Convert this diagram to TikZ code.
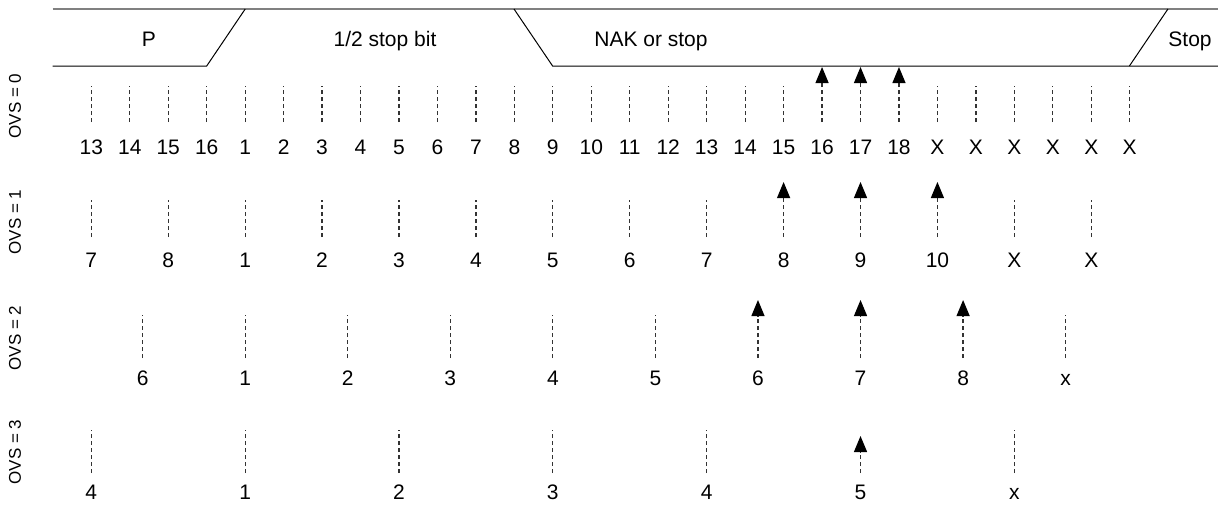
\documentclass[tikz,border=0pt]{standalone}
\usepackage{fontspec}
\setmainfont{Liberation Sans}
\usetikzlibrary{arrows.meta}

\tikzset{
	sig/.style={line width=0.5pt},
	bus/.style={line width=1pt,gray},
	tick/.style={line width=0.6pt,black!80,dash pattern=on 2pt off 1.5pt},
	hit/.style={tick,-{Triangle[length=8pt,width=6.5pt,color=black]}},
	num/.style={font=\fontsize{10.5}{12}\selectfont,inner sep=0pt,text height=7.6pt,text depth=0pt},
	ovs/.style={font=\fontsize{8.5}{10}\selectfont,inner sep=0pt,rotate=90},
}

\begin{document}
\begin{tikzpicture}[x=0.5pt,y=-0.5pt]
	\useasboundingbox (0,0) rectangle (1218,504);
	% line state
	\coordinate (pa) at (52.7,66);
	\coordinate (pb) at (206.7,66);
	\coordinate (pc) at (245.2,9);
	\coordinate (ha) at (514,9);
	\coordinate (hb) at (552.6,66);
	\coordinate (sa) at (1129.4,66);
	\coordinate (sb) at (1167.9,9);
	\draw[bus] (52.7,9) -- (1218,9);
	\draw[sig] (pa) -- (pb) -- (pc);
	\draw[sig] (ha) -- (hb) -- (1218,66);
	\draw[sig] (sa) -- (sb);
	\node[num] (p) at (149,39) {P};
	\node[num] (half) at (385,39) {1/2 stop bit};
	\node[num] (nak) at (651,39) {NAK or stop};
	\node[num] (stop) at (1190,39) {Stop};

	% OVS = 0
	\node[ovs] (ovs0) at (15,106) {OVS = 0};
	\foreach \lbl [count=\i from 0] in {13,14,15,16,1,2,3,4,5,6,7,8,9,10,11,12,13,14,15,16,17,18,X,X,X,X,X,X} {
		\node[num] (n0-\i) at ({91.3+38.46*\i},146.7) {\lbl};
		\coordinate (t0-\i) at ({91.3+38.46*\i},86);
		\coordinate (a0-\i) at ({91.3+38.46*\i},67);
		\coordinate (b0-\i) at ({91.3+38.46*\i},122);
	}
	\foreach \i in {0,...,18,22,23,24,25,26,27}
		\draw[tick] (b0-\i) -- (t0-\i);
	\foreach \i in {19,20,21}
		\draw[hit] (b0-\i) -- (a0-\i);

	% OVS = 1
	\node[ovs] (ovs1) at (15,222) {OVS = 1};
	\foreach \lbl [count=\i from 0] in {7,8,1,2,3,4,5,6,7,8,9,10,X,X} {
		\node[num] (n1-\i) at ({91.3+76.92*\i},260) {\lbl};
		\coordinate (t1-\i) at ({91.3+76.92*\i},200);
		\coordinate (a1-\i) at ({91.3+76.92*\i},182);
		\coordinate (b1-\i) at ({91.3+76.92*\i},237);
	}
	\foreach \i in {0,...,8,12,13}
		\draw[tick] (b1-\i) -- (t1-\i);
	\foreach \i in {9,10,11}
		\draw[hit] (b1-\i) -- (a1-\i);

	% OVS = 2
	\node[ovs] (ovs2) at (15,338) {OVS = 2};
	\foreach \lbl [count=\i from 0] in {6,1,2,3,4,5,6,7,8,x} {
		\node[num] (n2-\i) at ({142.6+102.56*\i},378) {\lbl};
		\coordinate (t2-\i) at ({142.6+102.56*\i},315);
		\coordinate (a2-\i) at ({142.6+102.56*\i},300);
		\coordinate (b2-\i) at ({142.6+102.56*\i},358);
	}
	\foreach \i in {0,...,5,9}
		\draw[tick] (b2-\i) -- (t2-\i);
	\foreach \i in {6,7,8}
		\draw[hit] (b2-\i) -- (a2-\i);

	% OVS = 3
	\node[ovs] (ovs3) at (15,452) {OVS = 3};
	\foreach \lbl [count=\i from 0] in {4,1,2,3,4,5,x} {
		\node[num] (n3-\i) at ({91.3+153.84*\i},492) {\lbl};
		\coordinate (t3-\i) at ({91.3+153.84*\i},430);
		\coordinate (a3-\i) at ({91.3+153.84*\i},436);
		\coordinate (b3-\i) at ({91.3+153.84*\i},473);
	}
	\foreach \i in {0,...,4,6}
		\draw[tick] (b3-\i) -- (t3-\i);
	\draw[hit] (b3-5) -- (a3-5);
\end{tikzpicture}
\end{document}
